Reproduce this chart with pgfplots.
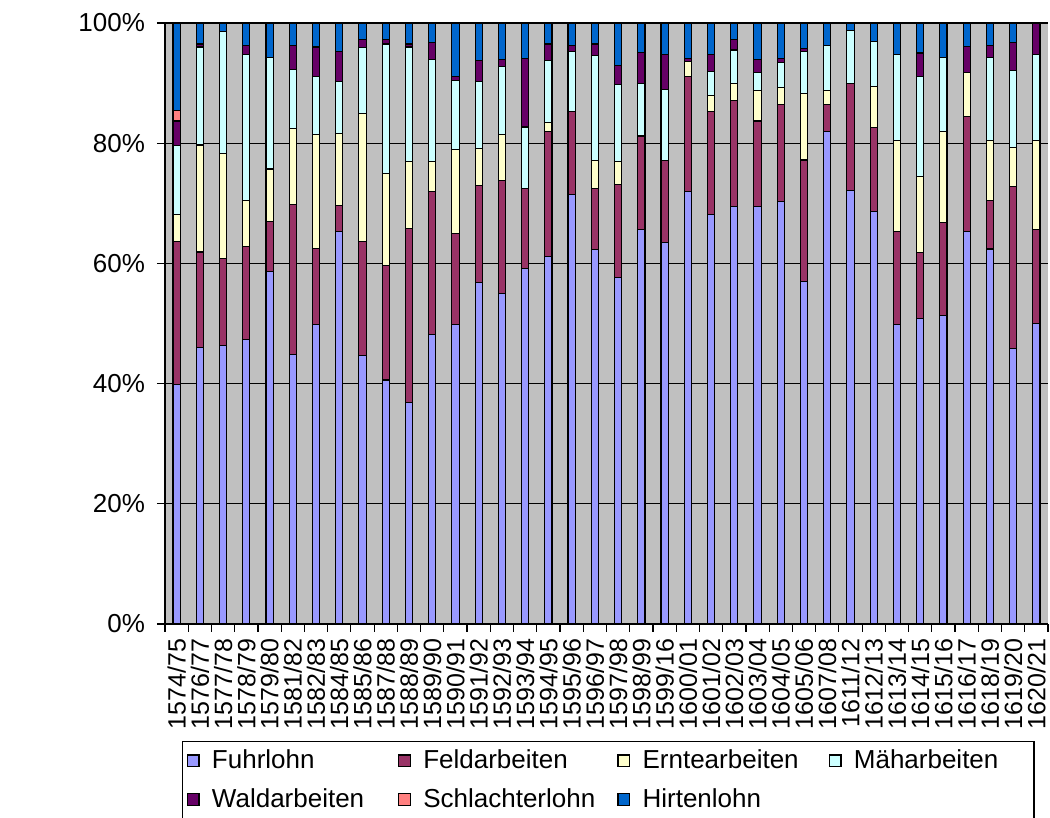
\documentclass[border=0pt]{standalone}
\usepackage{fontspec}
\setmainfont{Liberation Sans}
\usepackage{pgfplots}
\usepackage{pgfplotstable}
\pgfplotsset{compat=1.18}
\definecolor{cF}{HTML}{9999FF}
\definecolor{cFe}{HTML}{993366}
\definecolor{cE}{HTML}{FFFFCC}
\definecolor{cM}{HTML}{CCFFFF}
\definecolor{cW}{HTML}{660066}
\definecolor{cS}{HTML}{FF8080}
\definecolor{cH}{HTML}{0066CC}
\definecolor{bg}{HTML}{C0C0C0}

\pgfplotstableread{
x  F    Fe   E    M    W    S   H
0  39.9 23.7 4.6  11.4 4.1  1.7 14.6
1  46.0 15.9 17.8 16.3 0.5  0   3.5
2  46.4 14.4 17.5 20.3 0    0   1.4
3  47.3 15.5 7.7  24.2 1.5  0   3.8
4  58.7 8.2  8.8  18.6 0    0   5.7
5  44.9 24.9 12.6 9.8  4.0  0   3.8
6  49.8 12.7 18.9 9.7  4.9  0   4.0
7  65.3 4.3  12.0 8.6  5.1  0   4.7
8  44.6 19.1 21.3 10.9 1.3  0   2.8
9  40.6 19.1 15.3 21.5 0.7  0   2.8
10 36.9 28.9 11.1 19.1 0.5  0   3.5
11 48.2 23.8 4.9  17.1 2.8  0   3.2
12 49.8 15.2 13.9 11.6 0.6  0   8.9
13 56.8 16.1 6.2  11.1 3.5  0   6.3
14 55.0 18.8 7.6  11.4 1.2  0   6.0
15 59.2 13.3 0    10.2 11.4 0   5.9
16 61.1 20.9 1.5  10.3 2.7  0   3.5
17 71.5 13.7 0    10.1 0.9  0   3.8
18 62.3 10.1 4.7  17.5 1.9  0   3.5
19 57.6 15.6 3.7  12.9 3.2  0   7.0
20 65.6 15.6 0    8.8  5.1  0   4.9
21 63.5 13.6 0    11.8 5.9  0   5.2
22 71.9 19.2 2.5  0    0.5  0   5.9
23 68.2 17.0 2.7  4.0  2.8  0   5.3
24 69.4 17.7 2.9  5.5  1.8  0   2.7
25 69.4 14.3 5.0  3.1  2.2  0   6.0
26 70.3 16.1 2.8  4.3  0.6  0   5.9
27 57.0 20.2 11.1 7.0  0.5  0   4.2
28 81.9 4.6  2.2  7.5  0    0   3.8
29 72.1 17.9 0    8.8  0    0   1.2
30 68.6 14.0 6.8  7.5  0    0   3.1
31 49.9 15.4 15.2 14.3 0    0   5.2
32 50.9 10.9 12.6 16.7 3.9  0   5.0
33 51.4 15.4 15.1 12.4 0    0   5.7
34 65.3 19.1 7.4  0    4.3  0   3.9
35 62.4 8.0  10.1 13.7 2.0  0   3.8
36 45.9 26.9 6.5  12.8 4.7  0   3.2
37 50.0 15.6 14.8 14.3 5.3  0   0
}\data

\begin{document}
\begin{tikzpicture}
\path[use as bounding box] (-82.5pt,-97pt) rectangle (442.5pt,312pt);
\begin{axis}[
  scale only axis,
  width=441.5pt, height=300.5pt,
  xmin=-0.5, xmax=37.5, ymin=0, ymax=100,
  ybar stacked, bar width=3.6pt,
  axis background/.style={fill=bg},
  axis x line*=bottom, axis y line*=left,
  axis line style={-, black, line width=0.6pt},
  tick align=outside, major tick length=4pt,
  tick style={black, line width=0.6pt},
  xtick={-0.5,0.5,...,37.5},
  x tick label as interval,
  xticklabels={1574/75,1576/77,1577/78,1578/79,1579/80,1581/82,1582/83,1584/85,1585/86,1587/88,1588/89,1589/90,1590/91,1591/92,1592/93,1593/94,1594/95,1595/96,1596/97,1597/98,1598/99,1599/16,1600/01,1601/02,1602/03,1603/04,1604/05,1605/06,1607/08,1611/12,1612/13,1613/14,1614/15,1615/16,1616/17,1618/19,1619/20,1620/21},
  xticklabel style={rotate=90, anchor=east, font=\fontsize{12.5}{15}\selectfont},
  ytick={0,20,...,100},
  yticklabels={0\%,20\%,40\%,60\%,80\%,100\%},
  yticklabel style={font=\fontsize{13}{15}\selectfont, xshift=-2.5pt},
  ymajorgrids, xmajorgrids=false,
  grid style={black, line width=0.6pt},
  every axis plot/.append style={draw=black, line width=0.55pt},
  legend columns=4,
  legend cell align=left,
  legend style={at={(0,0)}, anchor=north west, xshift=8.5pt, yshift=-58.5pt,
    draw=black, line width=0.7pt, fill=white,
    font=\fontsize{13}{15}\selectfont,
    inner xsep=2pt, inner ysep=2pt, row sep=4.5pt,
    /tikz/every even column/.append style={column sep=0pt}},
  legend image code/.code={\draw[#1, draw=black, line width=0.7pt] (0pt,-2.9pt) rectangle (5.8pt,2.9pt); \path[draw=none, fill=none] (5.8pt,0pt) -- (10.3pt,0pt);},
]
\addplot[fill=cF] table[x=x,y=F]{\data};
\addlegendentry{\makebox[91pt][l]{Fuhrlohn}}
\addplot[fill=cFe] table[x=x,y=Fe]{\data};
\addlegendentry{\makebox[95pt][l]{Feldarbeiten}}
\addplot[fill=cE] table[x=x,y=E]{\data};
\addlegendentry{\makebox[91pt][l]{Erntearbeiten}}
\addplot[fill=cM] table[x=x,y=M]{\data};
\addlegendentry{\makebox[86pt][l]{Mäharbeiten}}
\addplot[fill=cW] table[x=x,y=W]{\data};
\addlegendentry{\makebox[91pt][l]{Waldarbeiten}}
\addplot[fill=cS] table[x=x,y=S]{\data};
\addlegendentry{\makebox[95pt][l]{Schlachterlohn}}
\addplot[fill=cH] table[x=x,y=H]{\data};
\addlegendentry{\makebox[91pt][l]{Hirtenlohn}}
\node[rotate=90, font=\fontsize{13}{15}\selectfont\bfseries] at ([xshift=-63.5pt]axis description cs:0,0.5) {gl};
\end{axis}
\end{tikzpicture}
\end{document}
